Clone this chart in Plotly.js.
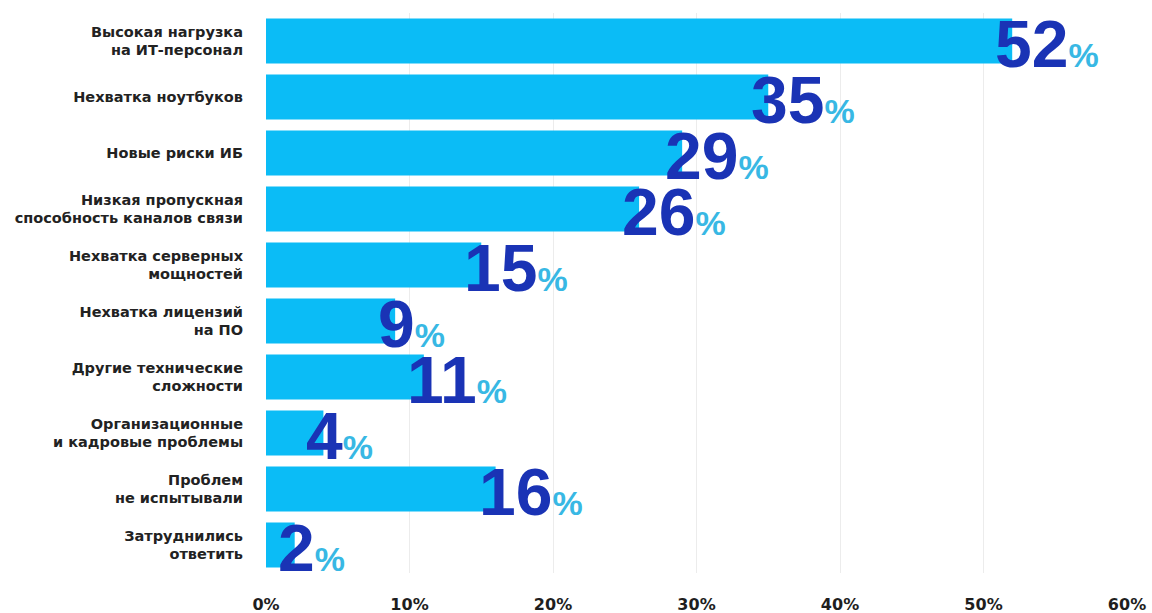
<!DOCTYPE html>
<html>
<head>
<meta charset="utf-8">
<script src="https://cdn.plot.ly/plotly-3.0.1.min.js"></script>
<style>html,body{margin:0;padding:0;background:#fff;}#chart{width:1152px;height:613px;}</style>
</head>
<body>
<div id="chart"></div>
<script>
const categories = [
  "Высокая нагрузка<br>на ИТ-персонал",
  "Нехватка ноутбуков",
  "Новые риски ИБ",
  "Низкая пропускная<br>способность каналов связи",
  "Нехватка серверных<br>мощностей",
  "Нехватка лицензий<br>на ПО",
  "Другие технические<br>сложности",
  "Организационные<br>и кадровые проблемы",
  "Проблем<br>не испытывали",
  "Затруднились<br>ответить"
];
const values = [52, 35, 29, 26, 15, 9, 11, 4, 16, 2];
const tickVals = [0, 10, 20, 30, 40, 50, 60];
const tickText = ["0%", "10%", "20%", "30%", "40%", "50%", "60%"];

const barColor = "#0bbcf6";
const numColor = "#1a33b5";
const pctColor = "#38b8e4";

const annotations = categories.map((c, i) => ({
  x: values[i], y: c, xref: "x", yref: "y",
  xanchor: "left", yanchor: "middle",
  xshift: -19, yshift: -3,
  showarrow: false,
  text: "<b>" + values[i] + "</b><span style='font-size:34px;color:" + pctColor + "'>%</span>",
  font: {family: "Liberation Sans, Arial, sans-serif", size: 66, color: numColor, weight: 700}
}));

const trace = {
  type: "bar", orientation: "h",
  x: values, y: categories,
  marker: {color: barColor},
  hoverinfo: "skip"
};

const layout = {
  width: 1152, height: 613,
  margin: {l: 266, r: 25, t: 13, b: 40, autoexpand: false},
  paper_bgcolor: "#fff", plot_bgcolor: "#fff",
  bargap: 0.2,
  showlegend: false,
  xaxis: {
    range: [0, 60], tickvals: tickVals, ticktext: tickText,
    showgrid: true, gridcolor: "#ececec", gridwidth: 1,
    zeroline: false, showline: false, ticks: "",
    ticklabelstandoff: 20, automargin: false,
    tickfont: {family: "DejaVu Sans, sans-serif", size: 16, color: "#1e1e1e", weight: 700},
    fixedrange: true
  },
  yaxis: {
    range: [9.5, -0.5], autorange: false,
    showgrid: false, zeroline: false, showline: false, ticks: "",
    ticklabelstandoff: 22, automargin: false,
    tickfont: {family: "DejaVu Sans, sans-serif", size: 14.5, color: "#222", weight: 700},
    fixedrange: true
  },
  annotations: annotations
};

Plotly.newPlot("chart", [trace], layout, {displayModeBar: false, staticPlot: true});
</script>
</body>
</html>
